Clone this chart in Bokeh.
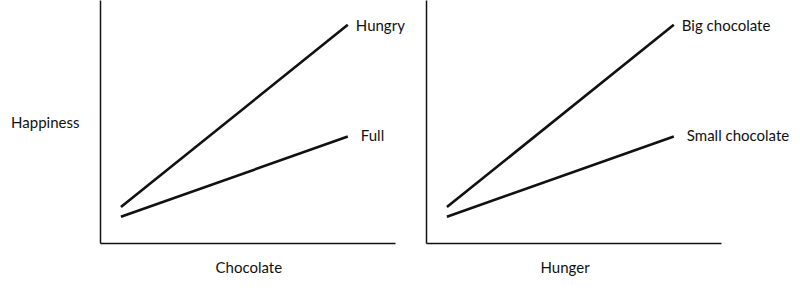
from bokeh.plotting import figure
from bokeh.layouts import row
from bokeh.models import Range1d, FixedTicker, Title
from bokeh.core.properties import value
from bokeh.embed import file_html
from bokeh.resources import INLINE

# Two-point interaction sketches: happiness against chocolate / hunger
x_ends = [0.9, 10.9]

left_series = ["Hungry", "Full"]
left_values = [[1.5, 9.0], [1.1, 4.4]]

right_series = ["Big chocolate", "Small chocolate"]
right_values = [[1.5, 9.0], [1.1, 4.4]]

x_axis_titles = ["Chocolate", "Hunger"]
y_axis_title = "Happiness"

FONT = "Lato"
FONT_SIZE = "15px"
INK = "#111111"
AXIS_END = 13.0
PX_PER_X = 22.69


def panel(series, values, x_title, title_start, width, left_border,
          y_title=None):
    frame_w = width - left_border
    p = figure(width=width, height=290, output_backend="svg",
               toolbar_location=None,
               x_range=Range1d(0, frame_w / PX_PER_X),
               y_range=Range1d(0, 10),
               min_border_left=left_border, min_border_right=0,
               min_border_top=0, min_border_bottom=47)
    p.background_fill_color = None
    p.border_fill_color = None
    p.outline_line_color = None
    p.grid.visible = False

    for ax in (p.xaxis[0], p.yaxis[0]):
        ax.ticker = FixedTicker(ticks=[])
        ax.axis_line_color = INK
        ax.axis_line_width = 1.5
        ax.major_tick_line_color = None
        ax.minor_tick_line_color = None
        ax.major_label_standoff = 0
    p.xaxis[0].bounds = (0, AXIS_END)
    p.yaxis[0].bounds = (0, 10)

    offsets_x = [8, 13]
    offsets_y = [0, -2]
    for name, ys, dx, dy in zip(series, values, offsets_x, offsets_y):
        p.line(x_ends, ys, line_color=INK, line_width=2.6)
        p.text(x=[x_ends[-1]], y=[ys[-1]], text=[name],
               x_offset=dx, y_offset=dy,
               text_font=value(FONT), text_font_size=FONT_SIZE,
               text_color=INK, text_baseline="middle", text_align="left")

    # x title under the drawn part of the x axis
    p.add_layout(Title(text=x_title, align="left", offset=title_start,
                       standoff=25, text_font=FONT, text_font_size=FONT_SIZE,
                       text_font_style="normal", text_color=INK), "below")

    if y_title:
        yax = p.yaxis[0]
        yax.axis_label = y_title
        yax.axis_label_orientation = "horizontal"
        yax.axis_label_standoff = 21
        yax.axis_label_text_font = FONT
        yax.axis_label_text_font_size = FONT_SIZE
        yax.axis_label_text_font_style = "normal"
        yax.axis_label_text_color = INK
        yax.axis_label_text_baseline = "alphabetic"
    return p


p_left = panel(left_series, left_values, x_axis_titles[0], 115, 405, 100,
               y_axis_title)
p_right = panel(right_series, right_values, x_axis_titles[1], 114, 395, 21)

layout = row(p_left, p_right, width=800, height=290)

open("out.html", "w").write(file_html(layout, INLINE))
